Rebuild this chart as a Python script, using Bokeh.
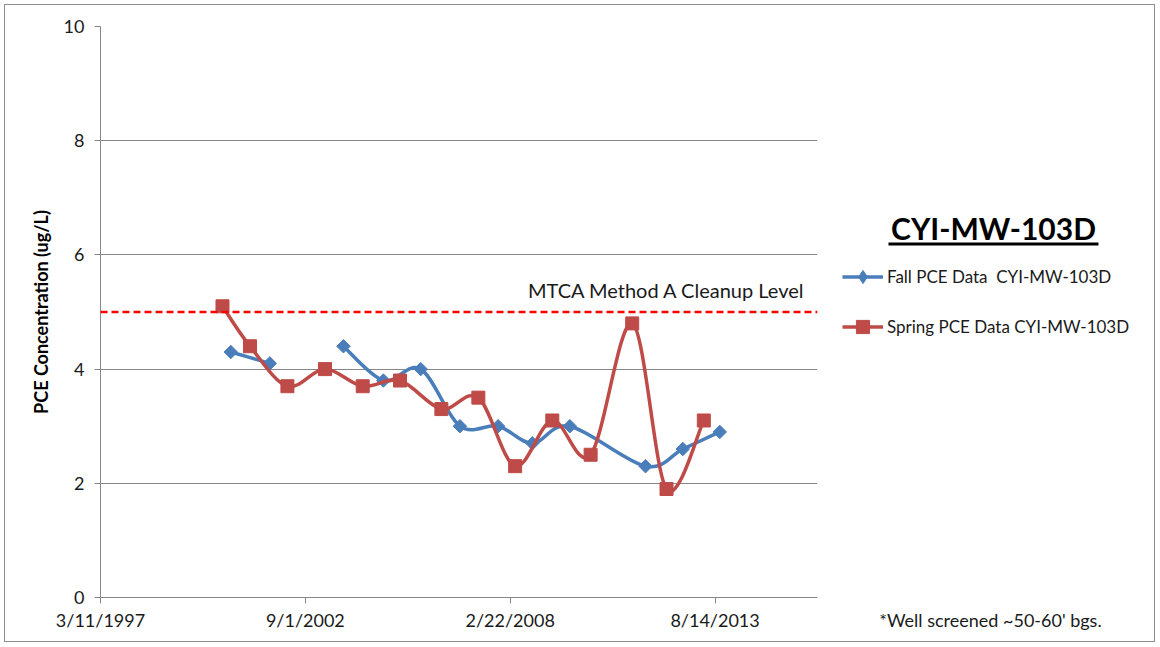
import numpy as np
import pandas as pd
from bokeh.plotting import figure
from bokeh.layouts import row
from bokeh.models import FixedTicker, Label, Legend, LegendItem, Span, BoxAnnotation
from bokeh.embed import file_html
from bokeh.resources import INLINE

# ---------------- data ----------------
fall_dates = ["2000-09-03", "2001-09-19", "2002-09-15", "2003-09-08", "2004-10-02",
              "2005-10-01", "2006-10-19", "2007-10-27", "2008-09-25", "2009-09-26",
              "2011-10-05", "2012-10-03", "2013-09-29"]
fall_values = [4.3, 4.1, None, 4.4, 3.8, 4.0, 3.0, 3.0, 2.7, 3.0, 2.3, 2.6, 2.9]

spring_dates = ["2000-06-14", "2001-03-10", "2002-03-10", "2003-03-12", "2004-03-14",
                "2005-03-13", "2006-04-21", "2007-04-17", "2008-04-10", "2009-04-08",
                "2010-04-17", "2011-05-28", "2012-04-27", "2013-04-26"]
spring_values = [5.1, 4.4, 3.7, 4.0, 3.7, 3.8, 3.3, 3.5, 2.3, 3.1, 2.5, 4.8, 1.9, 3.1]

cleanup_level = 5.0
x_tick_labels = ["3/11/1997", "9/1/2002", "2/22/2008", "8/14/2013"]
y_ticks = [0, 2, 4, 6, 8, 10]
well_name = "CYI-MW-103D"
fall_label = "Fall PCE Data  CYI-MW-103D"
spring_label = "Spring PCE Data CYI-MW-103D"
footnote = "*Well screened ~50-60' bgs."

FONT = "Lato"
BLUE = "#4A7EBB"
RED = "#BE4B48"
GRID = "#878787"
TXT = "#1a1a1a"


def to_serial(dates):
    d = pd.to_datetime(dates)
    return ((d - pd.Timestamp("1899-12-30")).days).to_numpy().astype(float)


def bezier_segments(x, y):
    """Excel-style smoothed line: cardinal Bezier segments through each unbroken run of points."""
    x = np.asarray(x, float)
    y = np.array([np.nan if v is None else v for v in y], float)
    seg = dict(x0=[], y0=[], x1=[], y1=[], cx0=[], cy0=[], cx1=[], cy1=[])
    ok = ~np.isnan(y)
    runs, cur = [], []
    for i in range(len(x)):
        if ok[i]:
            cur.append(i)
        elif cur:
            runs.append(cur); cur = []
    if cur:
        runs.append(cur)
    for r in runs:
        rx, ry = x[r], y[r]
        n = len(rx)
        if n < 2:
            continue
        xp = np.concatenate([[rx[0]], rx, [rx[-1]]])
        yp = np.concatenate([[ry[0]], ry, [ry[-1]]])
        for i in range(n - 1):
            p0x, p1x, p2x, p3x = xp[i], xp[i + 1], xp[i + 2], xp[i + 3]
            p0y, p1y, p2y, p3y = yp[i], yp[i + 1], yp[i + 2], yp[i + 3]
            seg["x0"].append(p1x); seg["y0"].append(p1y)
            seg["x1"].append(p2x); seg["y1"].append(p2y)
            seg["cx0"].append(p1x + (p2x - p0x) / 6.0)
            seg["cy0"].append(p1y + (p2y - p0y) / 6.0)
            seg["cx1"].append(p2x - (p3x - p1x) / 6.0)
            seg["cy1"].append(p2y - (p3y - p1y) / 6.0)
    return seg


fx = to_serial(fall_dates)
fy = np.array([np.nan if v is None else v for v in fall_values], float)
sx = to_serial(spring_dates)
sy = np.array(spring_values, float)
tick_x = to_serial(pd.to_datetime(x_tick_labels, format="%m/%d/%Y"))
xr0 = tick_x[0]
xr1 = tick_x[0] + 7000

H = 636
BT, BB = 21, 44
# ---------------- main chart ----------------
p = figure(width=830, height=H, output_backend="svg", toolbar_location=None,
           x_range=(xr0, xr1), y_range=(0, 10),
           min_border_left=95, min_border_right=18, min_border_top=BT, min_border_bottom=BB)
p.outline_line_color = None
p.background_fill_color = "white"
p.border_fill_color = "white"

p.xaxis.ticker = FixedTicker(ticks=list(tick_x))
p.xaxis.major_label_overrides = {float(t): lab for t, lab in zip(tick_x, x_tick_labels)}
p.yaxis.ticker = FixedTicker(ticks=y_ticks)
for ax in (p.xaxis[0], p.yaxis[0]):
    ax.axis_line_color = GRID
    ax.major_tick_line_color = GRID
    ax.major_tick_out = 6
    ax.major_tick_in = 0
    ax.minor_tick_line_color = None
    ax.major_label_text_font = FONT
    ax.major_label_text_font_size = "18px"
    ax.major_label_text_color = TXT
p.xaxis.major_label_standoff = 5
p.yaxis.major_label_standoff = 10
p.yaxis.axis_label = "PCE Concentration (ug/L)"
p.yaxis.axis_label_text_font = FONT
p.yaxis.axis_label_text_font_style = "bold"
p.yaxis.axis_label_text_font_size = "18px"
p.yaxis.axis_label_text_color = "black"
p.yaxis.axis_label_standoff = 9
p.xgrid.grid_line_color = None
p.ygrid.grid_line_color = GRID
p.ygrid.grid_line_width = 1

p.add_layout(Span(location=cleanup_level, dimension="width", line_color="#FF0000",
                  line_width=2.5, line_dash="7 4"))
p.add_layout(Label(x=xr1, y=cleanup_level, x_offset=-12, y_offset=22,
                   text="MTCA Method A Cleanup Level", text_align="right",
                   text_baseline="middle", text_font=FONT, text_font_size="20px",
                   text_color=TXT))

fseg = bezier_segments(fx, fall_values)
sseg = bezier_segments(sx, spring_values)
p.bezier(source=fseg, x0="x0", y0="y0", x1="x1", y1="y1", cx0="cx0", cy0="cy0",
         cx1="cx1", cy1="cy1", line_color=BLUE, line_width=3.5)
p.scatter(fx, fy, marker="square", angle=np.pi / 4, size=9.5, fill_color=BLUE, line_color=BLUE)
p.bezier(source=sseg, x0="x0", y0="y0", x1="x1", y1="y1", cx0="cx0", cy0="cy0",
         cx1="cx1", cy1="cy1", line_color=RED, line_width=3.5)
p.scatter(sx, sy, marker="square", size=13, fill_color=RED, line_color=RED)

# ---------------- legend / notes panel (frame aligned with the chart's frame) ----------------
PW = 319
X0 = 830 + 5            # panel's left edge on the page
FT, FB = 5 + BT, 5 + H - BB   # frame top / bottom on the page
q = figure(width=PW, height=H, output_backend="svg", toolbar_location=None,
           x_range=(X0, X0 + PW), y_range=(FB, FT),
           min_border_left=0, min_border_right=0, min_border_top=BT, min_border_bottom=BB)
q.yaxis.visible = False
q.grid.visible = False
q.outline_line_color = None
q.background_fill_color = "white"
q.border_fill_color = "white"
# footnote shown as the panel's single x tick label, level with the chart's date labels
qx = q.xaxis[0]
qx.ticker = FixedTicker(ticks=[990])
qx.major_label_overrides = {990: footnote}
qx.axis_line_color = None
qx.major_tick_line_color = None
qx.minor_tick_line_color = None
qx.major_tick_out = 6
qx.major_tick_in = 0
qx.major_label_standoff = 5
qx.major_label_text_font = FONT
qx.major_label_text_font_size = "18px"
qx.major_label_text_color = TXT

# legend keys reuse the series (they lie outside this panel's ranges, so only the keys show)
f_l = q.line(fx, fy, line_color=BLUE, line_width=3.5)
f_m = q.scatter(fx, fy, marker="diamond", fill_color=BLUE, line_color=BLUE)
s_l = q.line(sx, sy, line_color=RED, line_width=3.5)
s_m = q.scatter(sx, sy, marker="square", fill_color=RED, line_color=RED)

legend = Legend(items=[LegendItem(label=fall_label, renderers=[f_l, f_m], index=0),
                       LegendItem(label=spring_label, renderers=[s_l, s_m], index=0)],
                location=(7, 254), orientation="vertical",
                glyph_width=41, glyph_height=33, label_height=33, label_standoff=4,
                spacing=17, padding=0, margin=0,
                border_line_color=None, background_fill_alpha=0,
                label_text_font=FONT, label_text_font_size="17px", label_text_color=TXT)
q.add_layout(legend, "center")

q.add_layout(Label(x=993, y=227, text=well_name, text_align="center",
                   text_baseline="middle", text_font=FONT, text_font_style="bold",
                   text_font_size="30px", text_color="black"))
q.add_layout(BoxAnnotation(left=888, right=1098, top=242, bottom=245,
                           fill_color="black", fill_alpha=1, line_alpha=0))

layout = row(p, q, spacing=0)
layout.styles = {"border": "1px solid #8c8c8c", "margin": "4px"}

open("out.html", "w").write(file_html(layout, INLINE))
